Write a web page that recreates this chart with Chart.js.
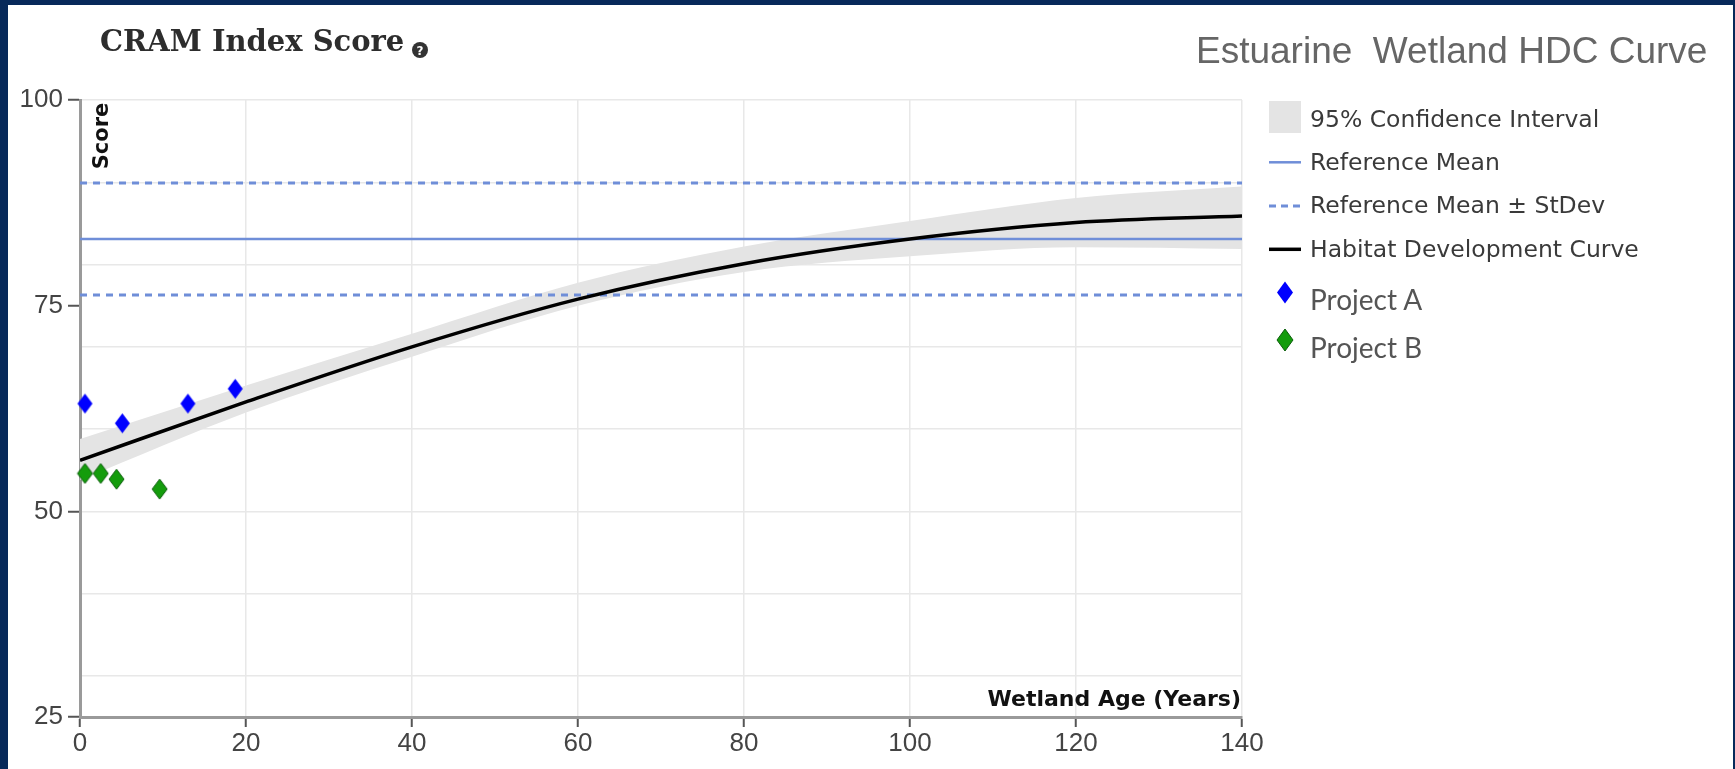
<!DOCTYPE html>
<html>
<head>
<meta charset="utf-8">
<title>CRAM Index Score – Estuarine Wetland HDC Curve</title>
<script src="https://cdn.jsdelivr.net/npm/chart.js@4.4.1/dist/chart.umd.min.js"></script>
<style>
  html, body { margin: 0; padding: 0; }
  body { width: 1735px; height: 769px; background: #07295a; position: relative; overflow: hidden; }
  #panel { position: absolute; left: 8px; top: 5px; width: 1725px; height: 764px; background: #ffffff; }
  #chart { position: absolute; left: 8px; top: 5px; }
  #overlay { position: absolute; left: 0; top: 0; pointer-events: none; }
</style>
</head>
<body>
<div id="panel"></div>
<canvas id="chart" width="1725" height="764"></canvas>
<svg id="overlay" width="1735" height="769" xmlns="http://www.w3.org/2000/svg">
  <!-- heading -->
  <text x="100" y="51" font-family="DejaVu Serif" font-weight="bold" font-size="29" fill="#2d2d2d">CRAM Index Score</text>
  <circle cx="420" cy="50" r="8" fill="#333333"/>
  <text x="420" y="54.5" text-anchor="middle" font-family="DejaVu Sans" font-weight="bold" font-size="12" fill="#ffffff">?</text>
  <text x="1196" y="63" font-family="Liberation Sans, Arial, sans-serif" font-size="37" fill="#666666" style="white-space:pre">Estuarine  Wetland HDC Curve</text>

  <!-- axis titles -->
  <text transform="translate(101,136) rotate(-90)" text-anchor="middle" dominant-baseline="central" font-family="DejaVu Sans" font-weight="bold" font-size="21" fill="#111111">Score</text>
  <text x="1241" y="706" text-anchor="end" font-family="DejaVu Sans" font-weight="bold" font-size="22" fill="#111111">Wetland Age (Years)</text>

  <!-- legend -->
  <rect x="1269" y="101" width="32" height="32" fill="#e4e4e4"/>
  <text x="1310" y="126.7" font-family="DejaVu Sans" font-size="23.5" fill="#3a3a3a">95% Confidence Interval</text>
  <line x1="1269" y1="162.3" x2="1301" y2="162.3" stroke="#6f8ed8" stroke-width="2.5"/>
  <text x="1310" y="170" font-family="DejaVu Sans" font-size="23.5" fill="#3a3a3a">Reference Mean</text>
  <line x1="1269" y1="206" x2="1301" y2="206" stroke="#6f8ed8" stroke-width="3" stroke-dasharray="7 5"/>
  <text x="1310" y="213.3" font-family="DejaVu Sans" font-size="23.5" fill="#3a3a3a">Reference Mean ± StDev</text>
  <line x1="1269" y1="249.3" x2="1301" y2="249.3" stroke="#000000" stroke-width="3.5"/>
  <text x="1310" y="256.7" font-family="DejaVu Sans" font-size="23.5" fill="#3a3a3a">Habitat Development Curve</text>
  <polygon points="1285,281.5 1293,292.5 1285,303.5 1277,292.5" fill="#0000ff"/>
  <text x="1310" y="310" font-family="Lato" font-size="28" fill="#555555">Project A</text>
  <polygon points="1285,329 1293,340 1285,351 1277,340" fill="#149c0c" stroke="#0b5d0b" stroke-width="1"/>
  <text x="1310" y="358" font-family="Lato" font-size="28" fill="#555555">Project B</text>
</svg>

<script>
// Habitat development curve and its 95% confidence band (wetland age in years)
const hdcAges   = [0, 20, 40, 60, 80, 100, 120, 140];
const hdcScores = [56.2, 63.3, 70.0, 75.8, 80.1, 83.1, 85.1, 85.9];
const ciUpper   = [58.8, 65.3, 71.6, 77.8, 82.2, 85.3, 88.1, 89.5];
const ciLower   = [53.8, 62.0, 68.8, 75.0, 79.1, 81.0, 82.1, 81.9];

// Reference site statistics
const refMean  = 83.1;
const refUpper = 89.9;   // mean + 1 StDev
const refLower = 76.3;   // mean - 1 StDev
const refSpan  = [0, 140];

// Project assessments
const projectAAges   = [0.6, 5.1, 13.0, 18.7];
const projectAScores = [63.1, 60.7, 63.1, 64.9];
const projectBAges   = [0.6, 2.5, 4.4, 9.6];
const projectBScores = [54.6, 54.6, 53.9, 52.7];

// Axis ticks
const xTickStep = 20;
const yLabelStep = 25;
const yGridStep = 10;

const toXY = (xs, ys) => xs.map((x, i) => ({ x: x, y: ys[i] }));
const flat = (xs, v) => xs.map(x => ({ x: x, y: v }));

function makeDiamond(w, h, fill, stroke) {
  const c = document.createElement('canvas');
  c.width = w + 2; c.height = h + 2;
  const g = c.getContext('2d');
  const cx = (w + 2) / 2, cy = (h + 2) / 2;
  g.beginPath();
  g.moveTo(cx, 1); g.lineTo(w + 1, cy); g.lineTo(cx, h + 1); g.lineTo(1, cy); g.closePath();
  g.fillStyle = fill; g.fill();
  if (stroke) { g.strokeStyle = stroke; g.lineWidth = 1; g.stroke(); }
  return c;
}

const blueDiamond  = makeDiamond(15, 20, '#0000ff', null);
const greenDiamond = makeDiamond(15, 20, '#149c0c', '#0b5d0b');

const refColor = '#6f8ed8';
const tickFont = { family: "'Liberation Sans Narrow', 'Liberation Sans', sans-serif", size: 26 };

new Chart(document.getElementById('chart'), {
  type: 'line',
  data: {
    datasets: [
      { label: 'Project A', data: toXY(projectAAges, projectAScores), showLine: false,
        pointStyle: blueDiamond, pointRadius: 10, order: 0, clip: false },
      { label: 'Project B', data: toXY(projectBAges, projectBScores), showLine: false,
        pointStyle: greenDiamond, pointRadius: 10, order: 0, clip: false },
      { label: 'Habitat Development Curve', data: toXY(hdcAges, hdcScores),
        borderColor: '#000000', borderWidth: 3.5, pointRadius: 0, fill: false,
        cubicInterpolationMode: 'monotone', order: 1 },
      { label: 'Reference Mean', data: flat(refSpan, refMean),
        borderColor: refColor, borderWidth: 2.5, pointRadius: 0, fill: false, order: 2 },
      { label: 'Reference Mean + StDev', data: flat(refSpan, refUpper),
        borderColor: refColor, borderWidth: 3, borderDash: [7, 6], pointRadius: 0, fill: false, order: 2 },
      { label: 'Reference Mean - StDev', data: flat(refSpan, refLower),
        borderColor: refColor, borderWidth: 3, borderDash: [7, 6], pointRadius: 0, fill: false, order: 2 },
      { label: '95% Confidence Interval', data: toXY(hdcAges, ciUpper),
        borderWidth: 0, borderColor: 'rgba(0,0,0,0)', backgroundColor: '#e4e4e4',
        pointRadius: 0, fill: '+1', cubicInterpolationMode: 'monotone', order: 4 },
      { label: 'CI lower', data: toXY(hdcAges, ciLower),
        borderWidth: 0, borderColor: 'rgba(0,0,0,0)', pointRadius: 0, fill: false,
        cubicInterpolationMode: 'monotone', order: 4 }
    ]
  },
  options: {
    responsive: false,
    animation: false,
    devicePixelRatio: 1,
    layout: { padding: { left: 0, right: 491, top: 95, bottom: 0 } },
    plugins: { legend: { display: false }, tooltip: { enabled: false } },
    scales: {
      x: {
        type: 'linear', min: 0, max: 140,
        ticks: { stepSize: xTickStep, color: '#444444', font: tickFont, padding: 1,
                 maxRotation: 0, autoSkip: false },
        grid: { color: '#e8e8e8', lineWidth: 1.5, tickLength: 10, tickColor: '#555555', tickWidth: 2 },
        border: { color: '#9a9a9a', width: 3 },
        afterFit: (axis) => { axis.height = 52; }
      },
      y: {
        type: 'linear', min: 25, max: 100,
        ticks: { stepSize: 5, autoSkip: false, color: '#444444', font: tickFont, padding: 5,
                 callback: (v) => (v % yLabelStep === 0 ? v : '') },
        grid: {
          lineWidth: 1.5, tickLength: 12, tickWidth: 2,
          color: (c) => (c.tick && c.tick.value % yGridStep === 0 ? '#e8e8e8' : 'rgba(0,0,0,0)'),
          tickColor: (c) => (c.tick && c.tick.value % yLabelStep === 0 ? '#555555' : 'rgba(0,0,0,0)')
        },
        border: { color: '#9a9a9a', width: 3 },
        afterFit: (axis) => { axis.width = 72; }
      }
    }
  }
});
</script>
</body>
</html>
